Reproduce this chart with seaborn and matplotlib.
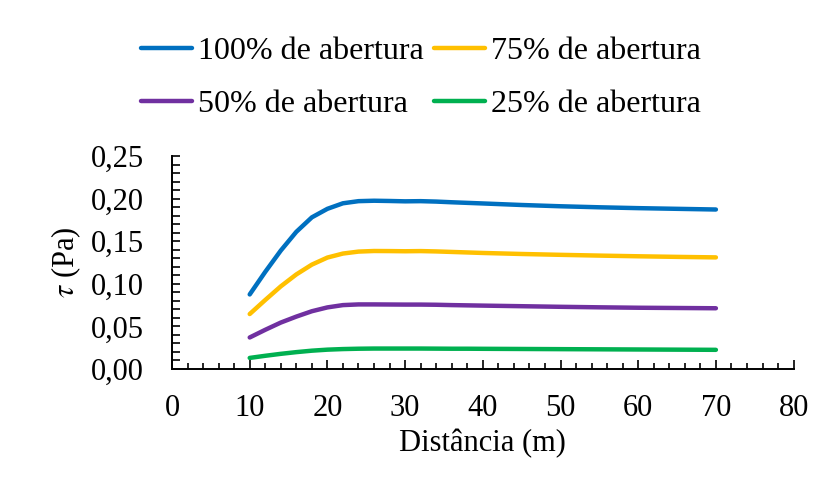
import matplotlib
matplotlib.use("Agg")
import matplotlib.pyplot as plt
from matplotlib.ticker import MultipleLocator, FuncFormatter
import seaborn as sns
import pandas as pd

# Distance along the channel (m)
distancia = [10, 12, 14, 16, 18, 20, 22, 24, 26, 28, 30, 32, 34, 36, 38,
             40, 45, 50, 55, 60, 65, 70]

# Shear stress (Pa) for each gate opening
tau_100 = [0.0875, 0.114, 0.139, 0.161, 0.178, 0.188, 0.1945, 0.197, 0.1975, 0.1972,
           0.1968, 0.197, 0.1965, 0.1957, 0.195, 0.1943, 0.1925, 0.191, 0.1898,
           0.1888, 0.188, 0.1872]
tau_75 = [0.0645, 0.081, 0.097, 0.111, 0.1225, 0.1308, 0.1355, 0.1378, 0.1385, 0.1384,
          0.1382, 0.1384, 0.1380, 0.1374, 0.1368, 0.1362, 0.1350, 0.1340, 0.1331,
          0.1323, 0.1316, 0.1310]
tau_50 = [0.037, 0.046, 0.0545, 0.0615, 0.0678, 0.0723, 0.075, 0.0758, 0.0758, 0.0757,
          0.0756, 0.0756, 0.0754, 0.0750, 0.0747, 0.0744, 0.0737, 0.0730, 0.0724,
          0.0719, 0.0716, 0.0713]
tau_25 = [0.013, 0.0155, 0.0178, 0.0198, 0.0215, 0.0227, 0.0234, 0.0238, 0.024, 0.024,
          0.024, 0.024, 0.0239, 0.0238, 0.0238, 0.0237, 0.0235, 0.0233, 0.0231,
          0.0229, 0.0227, 0.0225]

series = ["100% de abertura", "75% de abertura", "50% de abertura", "25% de abertura"]
cores = ["#0070C0", "#FFC000", "#7030A0", "#00B050"]

df = pd.concat([
    pd.DataFrame({"x": distancia, "tau": vals, "serie": nome})
    for nome, vals in zip(series, [tau_100, tau_75, tau_50, tau_25])
])

sns.set_theme(style="white")
plt.rcParams["font.family"] = ["Liberation Serif", "DejaVu Serif"]
plt.rcParams["mathtext.fontset"] = "stix"
plt.rcParams["text.color"] = "black"
plt.rcParams["axes.labelcolor"] = "black"
FS = 22

fig = plt.figure(figsize=(8.26, 4.94), dpi=100)
ax = fig.add_axes([172 / 826, 1 - 369 / 494, (793.6 - 172) / 826, (369 - 156) / 494])

sns.lineplot(data=df, x="x", y="tau", hue="serie", hue_order=series,
             palette=cores, linewidth=3.2, ax=ax, legend=False,
             solid_capstyle="round", solid_joinstyle="round")

ax.set_xlim(0, 80)
ax.set_ylim(0, 0.25)
ax.xaxis.set_major_locator(MultipleLocator(10))
ax.xaxis.set_minor_locator(MultipleLocator(2))
ax.yaxis.set_major_locator(MultipleLocator(0.05))
ax.yaxis.set_minor_locator(MultipleLocator(0.01))
ax.yaxis.set_major_formatter(FuncFormatter(lambda v, p: f"{v:.2f}".replace(".", ",")))

for s in ["top", "right"]:
    ax.spines[s].set_visible(False)
for s in ["left", "bottom"]:
    ax.spines[s].set_color("black")
    ax.spines[s].set_linewidth(1.4)

ax.tick_params(axis="both", which="both", direction="in", colors="black",
               labelsize=FS, width=1.2, bottom=True, left=True)
ax.tick_params(axis="x", which="major", length=6.5, pad=18)
ax.tick_params(axis="x", which="minor", length=4.3)
ax.tick_params(axis="y", which="major", length=5.8, pad=20)
ax.tick_params(axis="y", which="minor", length=5.8)

ax.set_xlabel("Distância (m)", fontsize=FS, color="black", labelpad=4)
ax.set_ylabel(r"$\tau$ (Pa)", fontsize=FS, color="black", labelpad=6)

# legend laid out row by row: 100%, 75% / 50%, 25%
ordem = [0, 2, 1, 3]
handles = [plt.Line2D([], [], color=cores[i], linewidth=3.2) for i in ordem]
labels = [series[i] for i in ordem]
fig.legend(handles, labels, loc="center", bbox_to_anchor=(421 / 826, 1 - 78 / 494),
           ncol=2, frameon=False, fontsize=23, handlelength=1.6,
           handletextpad=0.2, columnspacing=0.3, labelspacing=0.75,
           labelcolor="black")

fig.savefig("out.png", dpi=100)
